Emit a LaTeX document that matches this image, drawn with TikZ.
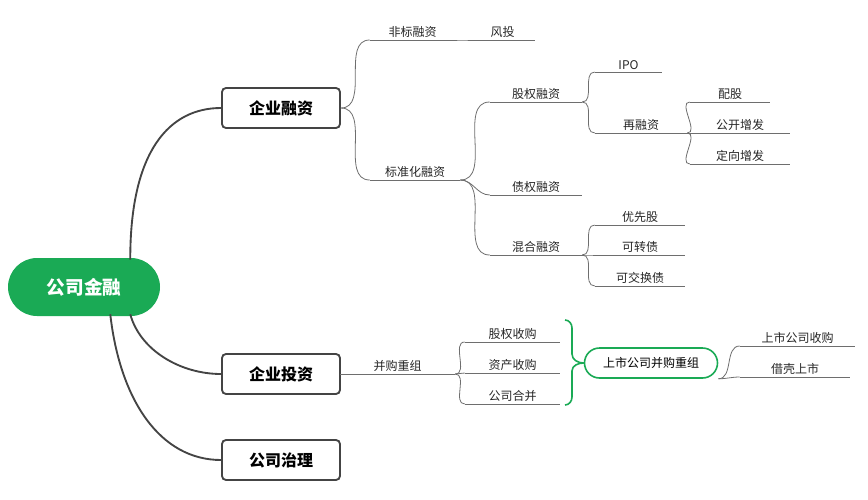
\documentclass[tikz,border=0pt]{standalone}
\usepackage{fontspec}
\setmainfont{Noto Sans CJK SC}
\usetikzlibrary{positioning,calc}
\definecolor{mmgreen}{RGB}{26,170,85}
\definecolor{mmdark}{RGB}{68,68,68}
\definecolor{mmgray}{RGB}{110,110,110}

\newcommand{\leaf}[5]{%
  \node[leaf, minimum width={(#3-#2)*0.75pt}, anchor=south] (#1) at ({(#2+#3)/2},#4) {#5};}

\begin{document}
\begin{tikzpicture}[
    x=0.75pt, y=-0.75pt,
    root/.style={rounded corners=29*0.75pt, fill=mmgreen, text=white, font=\bfseries\fontsize{14}{16}\selectfont,
                 minimum width=152*0.75pt, minimum height=58*0.75pt},
    topic/.style={draw=mmdark, line width=1.4pt, rounded corners=3pt, fill=white, font=\bfseries\fontsize{12}{14}\selectfont,
                  minimum width=118*0.75pt, minimum height=40*0.75pt},
    leaf/.style={inner sep=1.5pt, font=\fontsize{9}{11}\selectfont, text=black!85,
                 append after command={(\tikzlastnode.south west) edge[draw=mmgray, line width=0.6pt] (\tikzlastnode.south east)}},
    br/.style={draw=mmgray, line width=0.6pt},
    mainbr/.style={draw=mmdark, line width=1.4pt}
]
\useasboundingbox (0,0) rectangle (868,500);

\node[root] (root) at (84,287) {公司金融};
\node[topic] (rz) at (281,108) {企业融资};
\node[topic] (tz) at (281,374) {企业投资};
\node[topic] (zl) at (281,460) {公司治理};

% 企业融资
\leaf{fb}{370}{455}{40}{非标融资}
\leaf{ft}{470}{535}{40}{风投}
\leaf{bz}{370}{460}{180}{标准化融资}
\leaf{gq}{490}{582}{102}{股权融资}
\leaf{zq}{490}{582}{195}{债权融资}
\leaf{hh}{490}{582}{255}{混合融资}
\leaf{ipo}{595}{662}{72}{IPO}
\leaf{zr}{595}{687}{133}{再融资}
\leaf{pg}{690}{770}{102}{配股}
\leaf{gk}{690}{790}{133}{公开增发}
\leaf{dx}{690}{790}{164}{定向增发}
\leaf{yx}{595}{685}{225}{优先股}
\leaf{kz}{595}{685}{255}{可转债}
\leaf{kj}{595}{685}{286}{可交换债}

% 企业投资
\leaf{bg}{340}{455}{374}{并购重组}
\leaf{gs}{465}{560}{342}{股权收购}
\leaf{zc}{465}{560}{373}{资产收购}
\leaf{hb}{465}{560}{404}{公司合并}
\node[draw=mmgreen, line width=1.2pt, rounded corners=15*0.75pt, minimum width=133*0.75pt, minimum height=30*0.75pt,
      font=\fontsize{9}{11}\selectfont] (ss) at (651,363) {上市公司并购重组};
\leaf{sg}{740}{855}{346}{上市公司收购}
\leaf{jk}{740}{850}{377}{借壳上市}

% main branches
\draw[mainbr] ($(root.north east)+(-30,2)$) .. controls (130,150) and (170,108) .. (rz.west);
\draw[mainbr] ($(root.south east)+(-30,-2)$) .. controls (140,350) and (180,374) .. (tz.west);
\draw[mainbr] ($(root.south east)+(-50,-2)$) .. controls (120,400) and (160,460) .. (zl.west);

% sub branches
\foreach \a/\b in {rz.east/fb.south west, rz.east/bz.south west, tz.east/bg.south west}
  \draw[br] (\a) to[out=0,in=180] (\b);
\foreach \a/\b in {fb/ft, bz/gq, bz/zq, bz/hh, gq/ipo, gq/zr, zr/pg, zr/gk, zr/dx,
                   hh/yx, hh/kz, hh/kj, bg/gs, bg/zc, bg/hb, ss/sg, ss/jk}
  \draw[br] (\a.south east) to[out=0,in=180] (\b.south west);

% summary bracket
\draw[draw=mmgreen, line width=1.2pt] (565,320) to[out=0,in=90] (572,328) -- (572,354)
  to[out=-90,in=180] (ss.west) ;
\draw[draw=mmgreen, line width=1.2pt] (565,405) to[out=0,in=-90] (572,397) -- (572,371)
  to[out=90,in=180] (ss.west);
\end{tikzpicture}
\end{document}
